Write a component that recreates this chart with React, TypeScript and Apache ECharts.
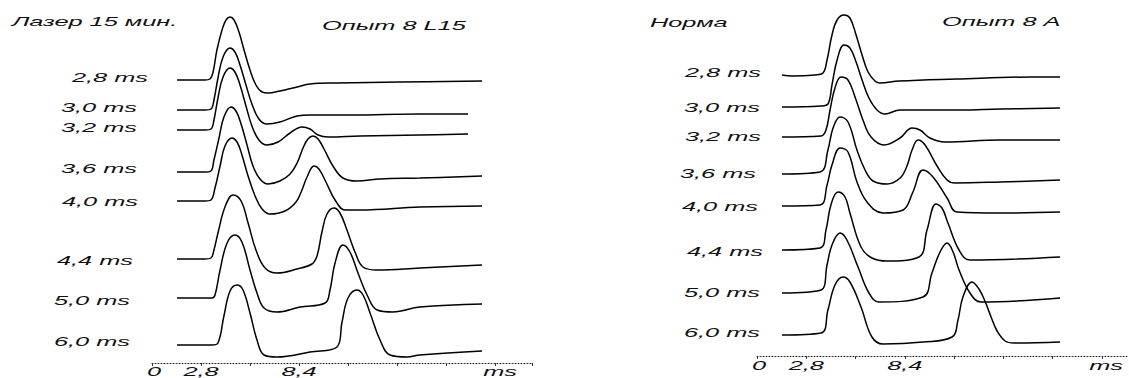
import React, { useEffect, useRef } from "react";
import * as echarts from "echarts";

// ---------- DATA ----------
// channel (stimulus interval) labels, top to bottom
const traceLabels = ["2,8 ms", "3,0 ms", "3,2 ms", "3,6 ms", "4,0 ms", "4,4 ms", "5,0 ms", "6,0 ms"];

// panel titles
const leftTitle = "Лазер 15 мин.";
const leftExp = "Опыт 8 L15";
const rightTitle = "Норма";
const rightExp = "Опыт 8 А";

// x-axis tick labels (ms)
const tickValues = [0, 2.8, 8.4];
const tickTexts = ["0", "2,8", "8,4"];
const axisUnit = "ms";

// baseline level of each trace above the time axis (arbitrary amplitude units)
const leftOffsets = [283, 253, 233, 191, 162, 104, 65, 18];
const rightOffsets = [281, 249, 219, 182, 150, 106, 63, 21];

// left panel traces: [time ms, amplitude]
const L1 = [[1.43,0],[3.03,0],[3.31,1],[3.49,8],[3.71,30],[4.0,50],[4.23,60],[4.46,63],[4.69,60],[4.97,48],[5.26,30],[5.6,10],[5.94,-5],[6.29,-12],[6.63,-13],[7.31,-11],[8.29,-7],[9.03,-4],[10.57,-3],[14.17,-2],[18.86,-1]];
const L2 = [[1.43,0],[3.03,0],[3.37,1],[3.54,10],[3.77,32],[4.06,53],[4.46,62],[4.74,58],[5.03,45],[5.37,25],[5.71,6],[6.11,-9],[6.57,-14],[7.31,-12],[8.29,-6],[9.03,-5],[11.31,-5],[15.31,-4],[18.06,-4]];
const L3 = [[1.43,0],[3.03,0],[3.37,1],[3.54,10],[3.77,32],[4.06,53],[4.46,62],[4.74,58],[5.03,45],[5.37,24],[5.71,4],[6.11,-10],[6.57,-15],[7.2,-12],[7.89,-3],[8.57,3],[9.03,1],[9.49,-5],[10.06,-7],[11.89,-6],[15.31,-5],[18.06,-4]];
const L4 = [[1.43,0],[3.03,0],[3.37,1],[3.54,12],[3.83,34],[4.11,55],[4.51,65],[4.8,61],[5.09,48],[5.43,27],[5.77,6],[6.17,-7],[6.63,-12],[7.31,-9],[7.89,-2],[8.29,9],[8.63,24],[8.91,33],[9.2,36],[9.49,33],[9.83,23],[10.34,6],[10.91,-6],[11.71,-9],[13.03,-7],[15.31,-6],[18.86,-4]];
const L5 = [[1.43,0],[3.03,0],[3.37,1],[3.6,13],[3.89,35],[4.17,55],[4.57,63],[4.86,59],[5.14,46],[5.49,25],[5.89,5],[6.29,-8],[6.74,-13],[7.6,-10],[8.23,-1],[8.57,11],[8.86,24],[9.26,35],[9.54,32],[9.94,19],[10.46,1],[11.03,-9],[11.89,-9],[15.31,-6],[18.86,-5]];
const L6 = [[1.43,0],[3.03,0],[3.37,1],[3.54,9],[3.77,26],[4.17,52],[4.63,64],[5.09,58],[5.49,36],[5.94,9],[6.46,-9],[7.14,-14],[8.29,-10],[9.14,-5],[9.43,3],[9.71,27],[10.0,45],[10.4,51],[10.74,46],[11.14,29],[11.6,7],[12.06,-8],[12.86,-11],[15.31,-9],[18.86,-6]];
const L7 = [[1.43,0],[3.43,0],[3.6,3],[3.89,28],[4.29,55],[4.74,63],[5.14,56],[5.6,28],[6.0,5],[6.4,-10],[7.14,-14],[8.46,-9],[9.89,-5],[10.17,8],[10.46,35],[10.91,53],[11.31,46],[11.77,25],[12.29,3],[12.86,-12],[13.77,-14],[15.31,-9],[18.86,-6]];
const L8 = [[1.43,0],[3.43,0],[3.77,2],[4.11,29],[4.46,54],[4.86,60],[5.2,55],[5.6,32],[6.0,5],[6.4,-10],[7.14,-12],[9.03,-7],[10.57,-2],[10.86,23],[11.2,47],[11.71,55],[12.06,50],[12.46,32],[13.03,5],[13.6,-10],[14.57,-12],[15.31,-10],[18.86,-6]];

// right panel traces: [time ms, amplitude]
const R1 = [[1.42,0],[1.99,-1],[3.3,0],[3.75,2],[3.98,15],[4.26,40],[4.55,55],[4.94,60],[5.28,57],[5.63,40],[5.97,20],[6.31,3],[6.7,-6],[6.99,-8],[8.07,-6],[11.31,-4],[15.63,-2],[17.22,-2]];
const R2 = [[1.42,0],[3.64,1],[4.03,3],[4.26,22],[4.55,47],[4.94,62],[5.28,59],[5.63,45],[5.97,27],[6.36,9],[6.82,-3],[7.27,-7],[8.13,-3],[11.53,-3],[13.81,-2],[17.22,-1]];
const R3 = [[1.42,0],[3.64,1],[3.92,7],[4.15,27],[4.43,49],[4.77,60],[5.17,57],[5.57,40],[6.02,17],[6.48,0],[7.22,-8],[8.13,-1],[8.81,9],[9.26,7],[9.83,-1],[10.68,-5],[13.81,-3],[17.22,-3]];
const R4 = [[1.42,0],[3.58,2],[4.03,24],[4.32,46],[4.72,57],[5.17,52],[5.68,24],[6.14,4],[6.59,-7],[7.39,-10],[8.13,-4],[8.52,8],[8.81,24],[9.15,34],[9.55,29],[10.23,8],[10.8,-6],[11.25,-9],[13.81,-8],[17.22,-6]];
const R5 = [[1.42,0],[3.58,1],[3.98,21],[4.26,41],[4.72,58],[5.17,54],[5.68,24],[6.25,4],[7.16,-7],[8.3,-4],[8.86,14],[9.43,36],[10.0,29],[10.8,8],[11.36,-6],[13.81,-7],[17.22,-6]];
const R6 = [[1.42,0],[3.58,2],[3.92,20],[4.2,45],[4.6,58],[5.0,53],[5.28,37],[5.91,3],[6.53,-8],[7.39,-11],[9.2,-7],[9.66,20],[10.17,46],[10.51,42],[10.85,27],[11.48,0],[12.1,-10],[17.22,-7]];
const R7 = [[1.42,0],[3.64,3],[3.98,28],[4.26,48],[4.72,60],[5.11,53],[5.74,26],[6.36,0],[6.93,-9],[9.43,-4],[9.94,20],[10.4,41],[10.8,50],[11.14,41],[11.48,23],[12.1,0],[12.73,-9],[17.22,-5]];
const R8 = [[1.42,0],[3.64,2],[4.03,25],[4.43,50],[4.89,58],[5.28,53],[5.91,28],[6.53,-2],[7.16,-9],[9.43,-7],[11.08,-2],[11.42,15],[11.7,38],[12.22,53],[12.61,46],[12.95,34],[13.3,18],[13.64,4],[14.1,-6],[14.6,-8],[17.22,-7]];

const leftTraces = [L1, L2, L3, L4, L5, L6, L7, L8];
const rightTraces = [R1, R2, R3, R4, R5, R6, R7, R8];

// ---------- LAYOUT (pixels) ----------
const leftLabelPos = [[148, 77], [137, 107], [137, 127], [137, 168], [138, 201], [133, 260], [130, 300], [130, 341]];
const rightLabelPos = [[761, 72], [760, 107], [761, 136], [756, 173], [758, 206], [763, 251], [760, 292], [760, 332]];

const FONT = 'italic 13px "Liberation Sans", Arial, Helvetica, sans-serif';
const SX = 1.95;

function txt(text: string, x: number, y: number, align: string) {
  return {
    type: "text",
    x,
    y,
    scaleX: SX,
    silent: true,
    style: {
      text,
      font: FONT,
      fill: "#111",
      align,
      textAlign: align,
      verticalAlign: "middle",
      textVerticalAlign: "middle",
    },
  };
}

export default function App() {
  const ref = useRef<HTMLDivElement>(null);

  useEffect(() => {
    const chart = echarts.init(ref.current as HTMLDivElement, null, { renderer: "svg" });

    const lineSeries = (tr: number[][], off: number, idx: number) => ({
      type: "line",
      xAxisIndex: idx,
      yAxisIndex: idx,
      data: tr.map((p) => [p[0], p[1] + off]),
      symbol: "none",
      showSymbol: false,
      smooth: 0.4,
      silent: true,
      lineStyle: { color: "#000", width: 1.5 },
    });

    const series: any[] = [];
    leftTraces.forEach((tr, i) => series.push(lineSeries(tr, leftOffsets[i], 0)));
    rightTraces.forEach((tr, i) => series.push(lineSeries(tr, rightOffsets[i], 1)));

    const xAxisBase = {
      type: "value",
      min: 0,
      interval: 2.8,
      axisLine: { show: true, lineStyle: { color: "#222", width: 1, type: [1, 2] } },
      axisTick: { show: true, length: 3, lineStyle: { color: "#333", width: 1 } },
      axisLabel: { show: false },
      splitLine: { show: false },
    };
    const yAxisBase = {
      type: "value",
      min: 0,
      show: false,
      splitLine: { show: false },
    };

    chart.setOption({
      animation: false,
      backgroundColor: "#fff",
      grid: [
        { left: 152, top: 0, width: 380, height: 363 },
        { left: 757, top: 0, width: 372, height: 356 },
      ],
      xAxis: [
        { ...xAxisBase, gridIndex: 0, max: 380 / 17.5 },
        { ...xAxisBase, gridIndex: 1, max: 372 / 17.6 },
      ],
      yAxis: [
        { ...yAxisBase, gridIndex: 0, max: 363 },
        { ...yAxisBase, gridIndex: 1, max: 356 },
      ],
      series,
    });

    const g: any[] = [];
    g.push(txt(leftTitle, 12, 21, "left"));
    g.push(txt(leftExp, 322, 25, "left"));
    g.push(txt(rightTitle, 650, 22, "left"));
    g.push(txt(rightExp, 942, 21, "left"));
    traceLabels.forEach((t, i) => {
      g.push(txt(t, leftLabelPos[i][0], leftLabelPos[i][1], "right"));
      g.push(txt(t, rightLabelPos[i][0], rightLabelPos[i][1], "right"));
    });
    tickValues.forEach((v, i) => {
      const pl = chart.convertToPixel({ xAxisIndex: 0 }, v) as number;
      const pr = chart.convertToPixel({ xAxisIndex: 1 }, v) as number;
      g.push(txt(tickTexts[i], pl + (i === 0 ? 2 : 0), 371, "center"));
      g.push(txt(tickTexts[i], pr + (i === 0 ? 2 : 0), 365, "center"));
    });
    g.push(txt(axisUnit, 517, 371, "right"));
    g.push(txt(axisUnit, 1123, 365, "right"));

    chart.setOption({ graphic: g });

    return () => chart.dispose();
  }, []);

  return (
    <div
      ref={ref}
      style={{ position: "fixed", left: 0, top: 0, width: 1129, height: 378, background: "#fff" }}
    />
  );
}
